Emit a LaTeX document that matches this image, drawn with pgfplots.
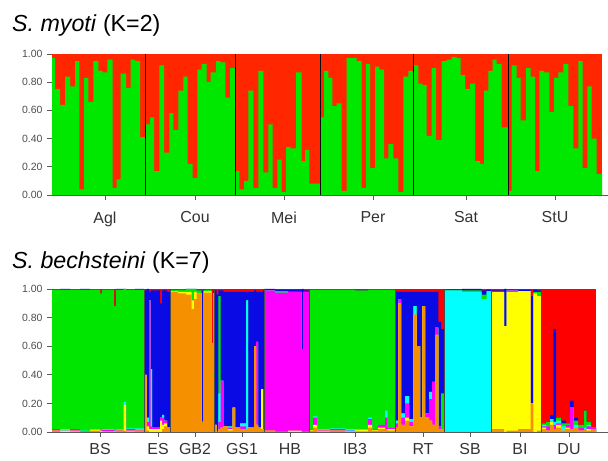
\documentclass[border=0pt]{standalone}
\usepackage{fontspec}
\setmainfont{Liberation Sans}
\usepackage{pgfplots}
\usepackage{pgfplotstable}
\pgfplotsset{compat=1.18}
\definecolor{topred}{RGB}{255,38,0}
\definecolor{topgreen}{RGB}{0,232,0}
\definecolor{bgreen}{RGB}{0,230,0}
\definecolor{bblue}{RGB}{10,10,228}
\definecolor{borange}{RGB}{245,145,0}
\definecolor{bmag}{RGB}{255,0,255}
\definecolor{bcyan}{RGB}{0,255,255}
\definecolor{byellow}{RGB}{255,255,0}
\definecolor{bred}{RGB}{255,0,0}
\definecolor{axgray}{RGB}{90,90,90}

% S. myoti: left edge of each individual's bar (px units) and green (cluster 1) fraction
\pgfplotstableread{
x v
52 0.97
55 0.75
60 0.64
65 0.84
70 0.77
75 0.95
79.3 0.04
84 0.83
88.3 0.66
93.3 0.95
98.3 0.88
102.7 0.87
107.3 0.96
112.7 0.05
116.7 0.11
120.7 0.86
126 0.76
130.7 0.96
135 0.95
140 0.41
145 0.50
150 0.55
154 0.17
159.3 0.92
164 0.30
169.3 0.58
173.3 0.46
178.3 0.74
183.3 0.84
187.7 0.22
192.7 0.12
197.3 0.89
201.7 0.93
206.7 0.80
210.7 0.87
216 0.95
220.7 0.94
225.3 0.69
230 0.90
235 0.17
239.3 0.04
244 0.10
248.3 0.74
253.3 0.05
258.3 0.88
263.3 0.16
268.3 0.50
272.7 0.05
277.3 0.25
281.7 0.02
286 0.34
290.7 0.33
296 0.87
301.7 0.24
305 0.32
309.3 0.08
320 0.55
324 0.88
328.3 0.83
332.3 0.63
336.7 0.65
341.7 0.03
346.7 0.97
356.7 0.95
361.7 0.05
366 0.93
370 0.19
375 0.91
379.3 0.89
384 0.26
388.3 0.36
393.3 0.26
398.3 0.02
403.3 0.84
408.3 0.88
413.3 0.92
418.3 0.79
422.7 0.78
426.7 0.42
431.7 0.90
436 0.39
441.7 0.95
446.7 0.96
451.7 0.98
456.7 0.97
460.7 0.85
465 0.75
470 0.79
475 0.24
480 0.22
484 0.74
488.3 0.88
492.7 0.96
496.7 0.93
501.7 0.48
508.3 0.03
511.7 0.92
516.7 0.83
520.7 0.53
526 0.90
530.7 0.84
535 0.17
539.3 0.88
544 0.87
549.3 0.59
554 0.83
558.3 0.87
563.3 0.93
568.3 0.63
573.3 0.33
578.3 0.95
582.7 0.19
587.3 0.77
591.7 0.40
596.7 0.15
602 0.15
}\myoti

% S. bechsteini: left edge of each segment and cluster fractions (red = remainder)
\pgfplotstableread{
x O Y M C G B
52 .01 0 .01 0 .975 0
60 0 .01 0 .01 .975 .005
70 .005 .005 .01 0 .975 0
80 0 0 .005 .005 .985 .005
90 .01 .005 0 .005 .975 0
100 0 .01 .005 0 .955 0
102 .005 0 .01 .005 .975 0
114 0 .005 .005 .005 .865 0
116 .01 0 .005 .005 .975 .005
123.5 .01 .18 0 .02 .79 0
126 .005 .005 .01 .005 .97 0
135 .01 0 .005 .01 .97 .005
144 .40 0 0 0 0 .59
146.7 .01 .03 .03 .03 0 .9
149 0 .02 .9 0 0 .06
150.5 0 .02 .02 .4 0 .55
152 0 .02 .01 0 0 .96
160 0 .08 .02 0 0 .8
162 .02 .03 .05 .02 0 .87
164 .04 .02 .02 0 0 .91
167 .03 0 0 0 0 .95
170 .98 .005 0 0 .01 0
178 .97 .01 0 0 .015 0
186 .96 .02 0 0 .02 0
191.5 .86 .06 0 0 .08 0
194 .93 .05 0 0 .02 0
196.5 .97 0 0 0 .02 0
201.5 .07 0 0 0 0 .92
203.5 .975 .01 0 0 .01 0
211.5 .62 0 0 0 0 0
213 .97 0 0 0 0 .02
214 .05 0 0 0 0 .94
216.7 0 0 0 0 0 .96
218.3 .02 0 .05 .2 .68 .04
220.5 .03 0 .33 0 0 .63
223.3 .04 0 0 0 0 .94
228 .01 .01 .01 .01 0 .94
232.7 .17 0 0 0 0 .81
235 .03 0 0 0 0 .95
240 .02 0 .02 .02 0 .92
246 .02 0 0 .9 0 .06
248 .03 0 0 0 0 .95
254 .6 0 0 0 0 .39
256 .05 0 .58 0 0 .35
258 .03 0 0 0 0 .95
261 .02 .28 0 0 0 .68
263 .02 0 0 0 0 .97
264 .01 0 .98 0 0 .01
275 0 0 .975 0 .01 .01
288 0 .01 .97 0 0 .015
301.5 0 0 .58 0 0 .42
303.5 0 0 .98 0 0 .01
309 .01 .005 .005 0 .975 0
313 .03 .02 .05 .01 .885 0
317 .005 .005 .005 .005 .975 0
330 .01 0 .01 .005 .97 0
345 0 .005 .005 .01 .975 0
355 .005 .01 0 .005 .97 0
368 .03 .02 .04 .01 .895 0
372 .01 .005 .005 0 .975 0
378 .02 .01 .02 0 .945 0
385 .02 0 .08 .05 .845 0
387.5 .01 .01 .01 0 .965 0
395 .03 0 .03 .02 0 .9
398.3 .9 0 .03 0 0 .05
401 .05 0 .05 .03 0 .85
405 .08 .02 .1 .05 0 .73
409 .04 0 .03 .02 0 .89
413.3 .82 0 0 .06 0 .1
416.7 .6 0 0 0 0 .38
420 .1 0 0 0 0 .88
422.3 .88 0 0 0 0 .1
425 .1 0 .03 0 0 .85
429 .08 0 .15 .05 0 .7
432 .05 0 .3 0 0 .63
435 .68 0 .05 0 0 .25
438.3 .02 0 .02 0 0 .73
441 .02 0 0 0 .25 .45
444 0 0 0 .99 0 .005
462 0 0 0 .98 .01 .01
481.5 0 0 0 .93 .03 .03
486.5 0 0 0 .985 0 .01
491 .02 .96 0 0 0 .01
504 0 .74 0 0 0 .26
506.7 .01 .97 .01 0 0 .005
518 .02 .965 0 0 0 .01
530.7 .2 0 0 0 0 .75
533.3 0 .97 0 0 .01 .015
537 .01 .94 0 0 .03 .01
541 .02 .01 .01 .01 .01 0
546 .01 0 .03 0 .03 0
550 .05 .02 0 .02 0 .03
553.3 .02 0 .03 .02 0 .65
556 .03 .02 .01 .02 .02 0
561 .01 0 0 .03 .02 .02
566 .02 .01 .02 0 .01 0
570 .02 0 .15 0 0 .05
573.5 .03 0 0 .02 .03 .02
578 .01 0 .02 0 .02 0
584 .02 0 0 .01 .12 0
586.5 .01 .01 .02 .01 .02 0
591 .02 0 .01 0 0 0
596 .02 0 .01 0 0 0
}\bech

\pgfplotsset{
  structplot/.style={
    scale only axis, width=556bp,
    xmin=52, xmax=608, ymin=0, ymax=1,
    axis x line*=bottom, axis y line*=left,
    axis line style={axgray, line width=0.8bp},
    tick style={axgray, line width=0.8bp},
    tick align=outside, major tick length=5bp,
    ytick={0,0.2,0.4,0.6,0.8,1},
    yticklabel style={font=\fontsize{10.5}{11}\selectfont, text=black!70, xshift=-1bp,
      /pgf/number format/.cd, fixed, fixed zerofill, precision=2, assume math mode=true},
    xticklabel style={font=\fontsize{16}{16}\selectfont, text=black!80},
    clip=false,
  },
  seg/.style={draw=none, const plot},
}

\begin{document}
\begin{tikzpicture}
\path[use as bounding box] (0,0) rectangle (608bp,461bp);
\node[anchor=base west, inner sep=0pt, font=\fontsize{23.3}{24}\selectfont] at (12bp,429bp) {\textit{S. myoti} (K=2)};
\node[anchor=base west, inner sep=0pt, font=\fontsize{23.3}{24}\selectfont] at (12bp,192bp) {\textit{S. bechsteini} (K=7)};

\begin{axis}[structplot, height=141bp, at={(52bp,266bp)}, anchor=south west,
  xticklabel style={yshift=-8bp},
  xtick={105,195,284,373,466,555},
  xticklabels={Agl,Cou,Mei,Per,Sat,StU}]
  \addplot[fill=topred, draw=none] coordinates {(52,0)(52,1)(602,1)(602,0)};
  \addplot[fill=topgreen, seg] table[x=x,y=v] {\myoti} \closedcycle;
  \addplot[black, line width=0.9bp] coordinates {(145,0)(145,1)};
  \addplot[black, line width=0.9bp] coordinates {(235,0)(235,1)};
  \addplot[black, line width=0.9bp] coordinates {(320,0)(320,1)};
  \addplot[black, line width=0.9bp] coordinates {(413,0)(413,1)};
  \addplot[black, line width=0.9bp] coordinates {(508,0)(508,1)};
\end{axis}

\begin{axis}[structplot, height=143bp, at={(52bp,29bp)}, anchor=south west,
  xticklabel style={yshift=-3bp},
  xtick={100,158,195,242,290,355,423,470,520,569},
  xticklabels={BS,ES,GB2,GS1,HB,IB3,RT,SB,BI,DU}]
  % red cluster fills the remainder above the other six stacked clusters
  \addplot[fill=bred, draw=none] coordinates {(52,0)(52,1)(596,1)(596,0)};
  % stacked clusters, each drawn down to zero from its cumulative top, top-most first
  \addplot[fill=bblue, seg] table[x=x, y expr=\thisrow{O}+\thisrow{Y}+\thisrow{M}+\thisrow{C}+\thisrow{G}+\thisrow{B}] {\bech} \closedcycle;
  \addplot[fill=bgreen, seg] table[x=x, y expr=\thisrow{O}+\thisrow{Y}+\thisrow{M}+\thisrow{C}+\thisrow{G}] {\bech} \closedcycle;
  \addplot[fill=bcyan, seg] table[x=x, y expr=\thisrow{O}+\thisrow{Y}+\thisrow{M}+\thisrow{C}] {\bech} \closedcycle;
  \addplot[fill=bmag, seg] table[x=x, y expr=\thisrow{O}+\thisrow{Y}+\thisrow{M}] {\bech} \closedcycle;
  \addplot[fill=byellow, seg] table[x=x, y expr=\thisrow{O}+\thisrow{Y}] {\bech} \closedcycle;
  \addplot[fill=borange, seg] table[x=x, y=O] {\bech} \closedcycle;
  \addplot[black!70, line width=0.5bp] coordinates {(144,0)(144,1)};
  \addplot[black!70, line width=0.5bp] coordinates {(170,0)(170,1)};
  \addplot[black!70, line width=0.5bp] coordinates {(214,0)(214,1)};
  \addplot[black!70, line width=0.5bp] coordinates {(264,0)(264,1)};
  \addplot[black!70, line width=0.5bp] coordinates {(309,0)(309,1)};
  \addplot[black!70, line width=0.5bp] coordinates {(395,0)(395,1)};
  \addplot[black!70, line width=0.5bp] coordinates {(444,0)(444,1)};
  \addplot[black!70, line width=0.5bp] coordinates {(491,0)(491,1)};
  \addplot[black!70, line width=0.5bp] coordinates {(541,0)(541,1)};
\end{axis}
\end{tikzpicture}
\end{document}
